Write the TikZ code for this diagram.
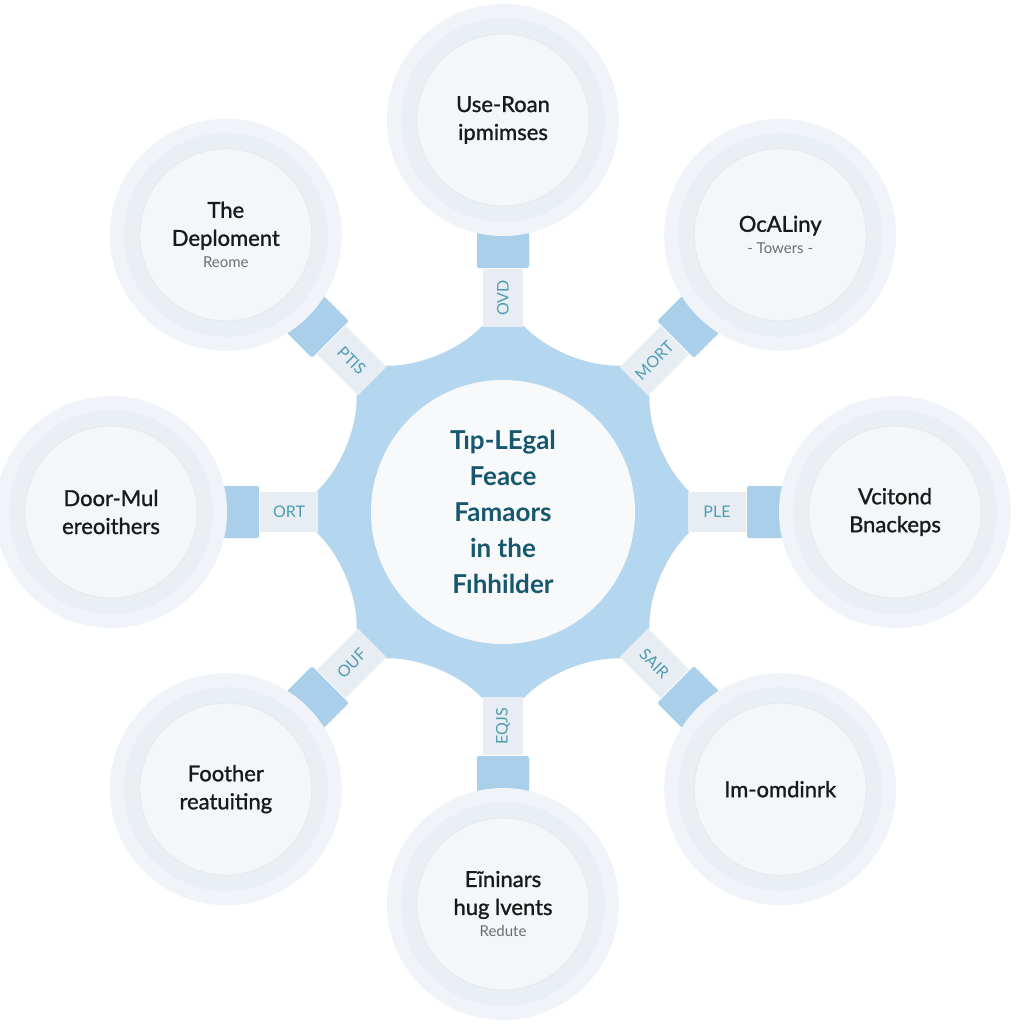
\documentclass[tikz,border=0pt]{standalone}
\usepackage{fontspec}
\setmainfont{Lato}
\newfontfamily\outerfont{Lato}[FakeBold=1.2]
\usetikzlibrary{calc}
\definecolor{gearblue}{HTML}{B5D6EF}
\definecolor{rectblue}{HTML}{AACFEA}
\definecolor{lblfill}{HTML}{E7EDF2}
\definecolor{lbltext}{HTML}{4F9CB2}
\definecolor{ringout}{HTML}{F0F4F8}
\definecolor{ringmid}{HTML}{EAEFF4}
\definecolor{innerfill}{HTML}{F4F7FA}
\definecolor{centerfill}{HTML}{F7F9FB}
\definecolor{centertext}{HTML}{17586E}
\definecolor{subgray}{HTML}{6A6E72}
\pgfdeclarelayer{bg}
\pgfdeclarelayer{ring}
\pgfsetlayers{bg,ring,main}
\begin{document}
\begin{tikzpicture}[x=1pt,y=1pt,
  outer/.style={circle, fill=innerfill, draw=ringmid!80!gray!60, line width=0.8, minimum size=172, inner sep=0, align=center,
    font=\outerfont\fontsize{22}{28}\selectfont, text=black!90},
  hub/.style={circle, fill=centerfill, minimum size=264, inner sep=0, align=center,
    font=\fontsize{26}{36}\selectfont\bfseries, text=centertext},
  lbl/.style={rectangle, fill=lblfill, minimum width=58, minimum height=40, inner sep=0,
    text=lbltext, font=\fontsize{16}{16}\selectfont},
  clamp/.style={rectangle, fill=rectblue, minimum width=36, minimum height=52, rounded corners=2, inner sep=0},
  subt/.style={font=\fontsize{15}{18}\selectfont}]

\useasboundingbox (0,0) rectangle (1024,-1024);

\node[hub] (c) at (503,-512) {Tıp-LEgal\\Feace\\Famaors\\in the\\Fıhhilder};

\node[outer] (nT)  at ($(c)+(90:392)$)  {Use-Roan\\ipmimses};
\node[outer] (nTR) at ($(c)+(45:392)$)  {OcALiny\\[-6pt]{\setmainfont{Lato}\fontsize{15}{18}\selectfont\color{subgray}- Towers -}};
\node[outer] (nR)  at ($(c)+(0:392)$)   {Vcitond\\Bnackeps};
\node[outer] (nBR) at ($(c)+(-45:392)$) {Im-omdinrk};
\node[outer] (nB)  at ($(c)+(-90:392)$) {Eĩninars\\hug lvents\\[-6pt]{\normalfont\fontsize{15}{18}\selectfont\color{subgray}Redute}};
\node[outer] (nBL) at ($(c)+(-135:392)$) {Foother\\reatuiting};
\node[outer] (nL)  at ($(c)+(180:392)$) {Door-Mul\\ereoithers};
\node[outer] (nTL) at ($(c)+(135:392)$) {The\\Deploment\\[-6pt]{\normalfont\fontsize{15}{18}\selectfont\color{subgray}Reome}};

\begin{pgfonlayer}{ring}
  \foreach \n in {nT,nTR,nR,nBR,nB,nBL,nL,nTL}{
    \fill[ringout] (\n) circle (116);
    \fill[ringmid] (\n) circle (102);
  }
\end{pgfonlayer}

\begin{pgfonlayer}{bg}
  \fill[white] (0,0) rectangle (1024,-1024);
  \fill[gearblue] ($(c)+(-6.5:187)$)
    \foreach \a in {0,45,...,315}{
      -- ($(c)+(\a-6.5:187)$) -- ($(c)+(\a+6.5:187)$)
      .. controls ($(c)+(\a+15:168)$) and ($(c)+(\a+30:168)$) .. ($(c)+(\a+38.5:187)$)
    } -- cycle;
  \foreach \n/\t/\txt in {nT/90/OVD, nTR/45/MORT, nR/0/PLE, nBR/-45/SAIR, nB/90/EQJS, nBL/45/OUF, nL/0/ORT, nTL/-45/PTIS}{
    \node[lbl, rotate=\t] (l\n) at ($(c)!214pt!(\n)$) {\txt};
    \node[clamp, rotate=\t] (k\n) at ($(c)!262pt!(\n)$) {};
  }
\end{pgfonlayer}
\end{tikzpicture}
\end{document}
